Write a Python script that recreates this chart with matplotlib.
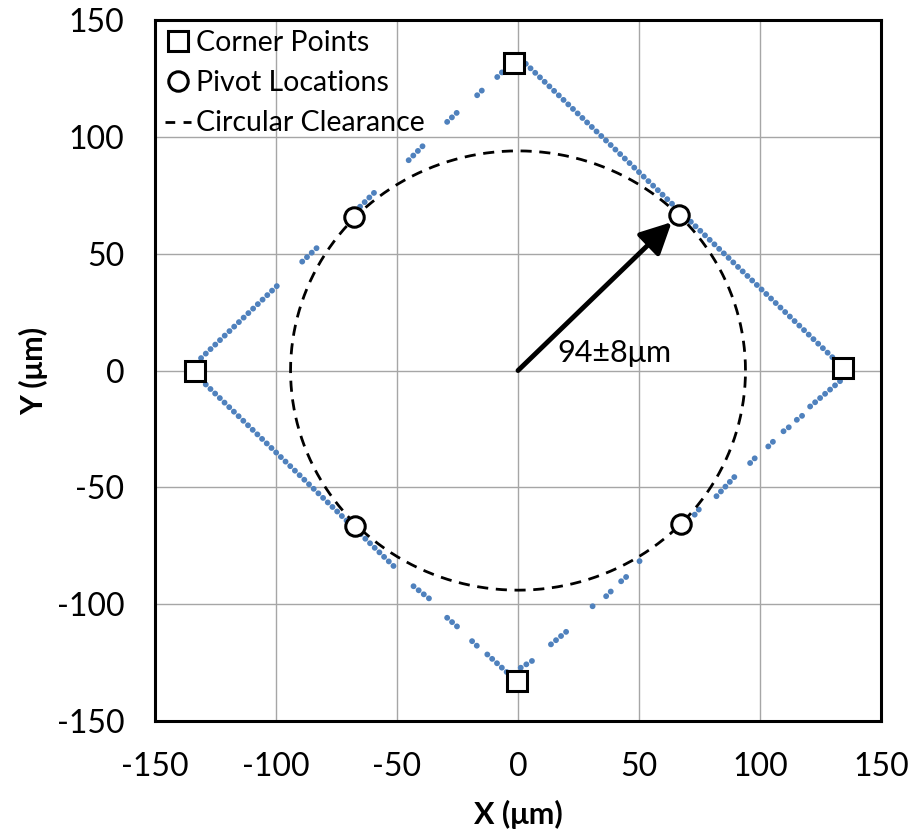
import matplotlib
matplotlib.use("Agg")
import matplotlib.pyplot as plt
from matplotlib.lines import Line2D
import numpy as np

plt.rcParams['font.family'] = ['Lato', 'DejaVu Sans']
plt.rcParams['lines.scale_dashes'] = False
plt.rcParams['axes.unicode_minus'] = False

# Corner points (µm)
corner_x = [-1.7, 134.4, -133.6, -0.4]
corner_y = [131.5, 1.0, 0.0, -133.0]

# Pivot locations (µm)
pivot_x = [-67.6, 66.4, -67.2, 67.2]
pivot_y = [65.6, 66.4, -66.4, -65.6]

# Circular clearance radius (µm)
clearance_r = 94.0

# Measured edge traces: segments (x0, y0, x1, y1) in µm
trace_segments = [
    # upper-left edge
    (-131.0, 5.3, -98.5, 37.3),
    (-89.2, 46.6, -82.3, 53.3),
    (-65.3, 70.1, -57.7, 77.9),
    (-45.2, 90.0, -38.3, 97.2),
    (-29.3, 106.4, -24.5, 111.1),
    (-16.9, 117.8, -14.1, 120.7),
    (-8.6, 125.6, -4.4, 129.9),
    # upper-right edge
    (3.2, 131.3, 131.0, 4.6),
    # lower-left edge
    (-131.0, -4.0, -50.7, -84.4),
    (-43.2, -92.3, -36.2, -98.0),
    (-29.3, -105.8, -23.8, -110.8),
    (-19.0, -115.8, -16.2, -118.6),
    (-12.7, -121.5, -4.4, -129.3),
    # lower-right edge
    (1.1, -127.2, 8.0, -122.9),
    (13.6, -117.2, 21.9, -110.1),
    (30.8, -100.9, 31.2, -100.5),
    (36.4, -96.6, 38.5, -94.4),
    (42.6, -90.2, 45.4, -87.7),
    (50.2, -81.6, 50.6, -81.2),
    (73.0, -61.7, 75.8, -58.1),
    (82.0, -53.8, 91.0, -43.8),
    (95.9, -39.6, 99.3, -36.0),
    (103.4, -32.5, 106.2, -29.6),
    (109.7, -26.0, 112.4, -23.9),
    (115.2, -21.1, 118.0, -18.9),
    (120.7, -15.4, 134.6, -3.2),
]

ticks = [-150, -100, -50, 0, 50, 100, 150]
label_text = "94±8μm"

blue = '#4F81BD'

fig = plt.figure(figsize=(9.12, 8.35), dpi=100)
ax = fig.add_axes([0.170, 0.1365, 0.796, 0.8395])

for (x0, y0, x1, y1) in trace_segments:
    ax.plot([x0, x1], [y0, y1], color=blue, lw=4.2,
            linestyle=(0, (0.1, 4.6)), dash_capstyle='round', zorder=2)

theta = np.linspace(0, 2 * np.pi, 721)
ax.plot(clearance_r * np.cos(theta), clearance_r * np.sin(theta),
        color='black', lw=2.0, linestyle=(0, (8.0, 5.5)), zorder=3)

ax.plot(corner_x, corner_y, linestyle='none', marker='s', ms=14,
        mfc='white', mec='black', mew=2.2, zorder=5)
ax.plot(pivot_x, pivot_y, linestyle='none', marker='o', ms=14,
        mfc='white', mec='black', mew=2.2, zorder=5)

ax.annotate('', xy=(pivot_x[1], pivot_y[1]), xytext=(0, 0),
            arrowprops=dict(arrowstyle='-|>,head_length=1.0,head_width=0.5',
                            mutation_scale=19, lw=3.5, color='black',
                            shrinkA=0, shrinkB=7),
            zorder=4)
ax.text(16.2, 7.6, label_text, fontsize=22, ha='left', va='center', zorder=6)

ax.set_xlim(-150, 150)
ax.set_ylim(-150, 150)
ax.set_xticks(ticks)
ax.set_yticks(ticks)
ax.tick_params(length=0, labelsize=23, pad=22)
ax.grid(True, color='#A6A6A6', lw=1.0)
ax.set_axisbelow(True)
for s in ax.spines.values():
    s.set_linewidth(2.2)
    s.set_color('black')

ax.set_xlabel('X (μm)', fontsize=22, fontweight='bold', labelpad=13)
ax.set_ylabel('Y (μm)', fontsize=22, fontweight='bold', labelpad=6)

handles = [
    Line2D([], [], linestyle='none', marker='s', ms=14, mfc='white', mec='black', mew=2.2),
    Line2D([], [], linestyle='none', marker='o', ms=14, mfc='white', mec='black', mew=2.2),
    Line2D([], [], color='black', lw=2.0, linestyle=(0, (7.0, 6.0))),
]
leg = ax.legend(handles, ['Corner Points', 'Pivot Locations', 'Circular Clearance'],
                loc='upper left', frameon=False, fontsize=20.5,
                handlelength=0.9, handletextpad=0.2, borderaxespad=0.15,
                borderpad=0.2, labelspacing=0.5)
leg.set_zorder(7)

fig.savefig('out.png', dpi=100)
